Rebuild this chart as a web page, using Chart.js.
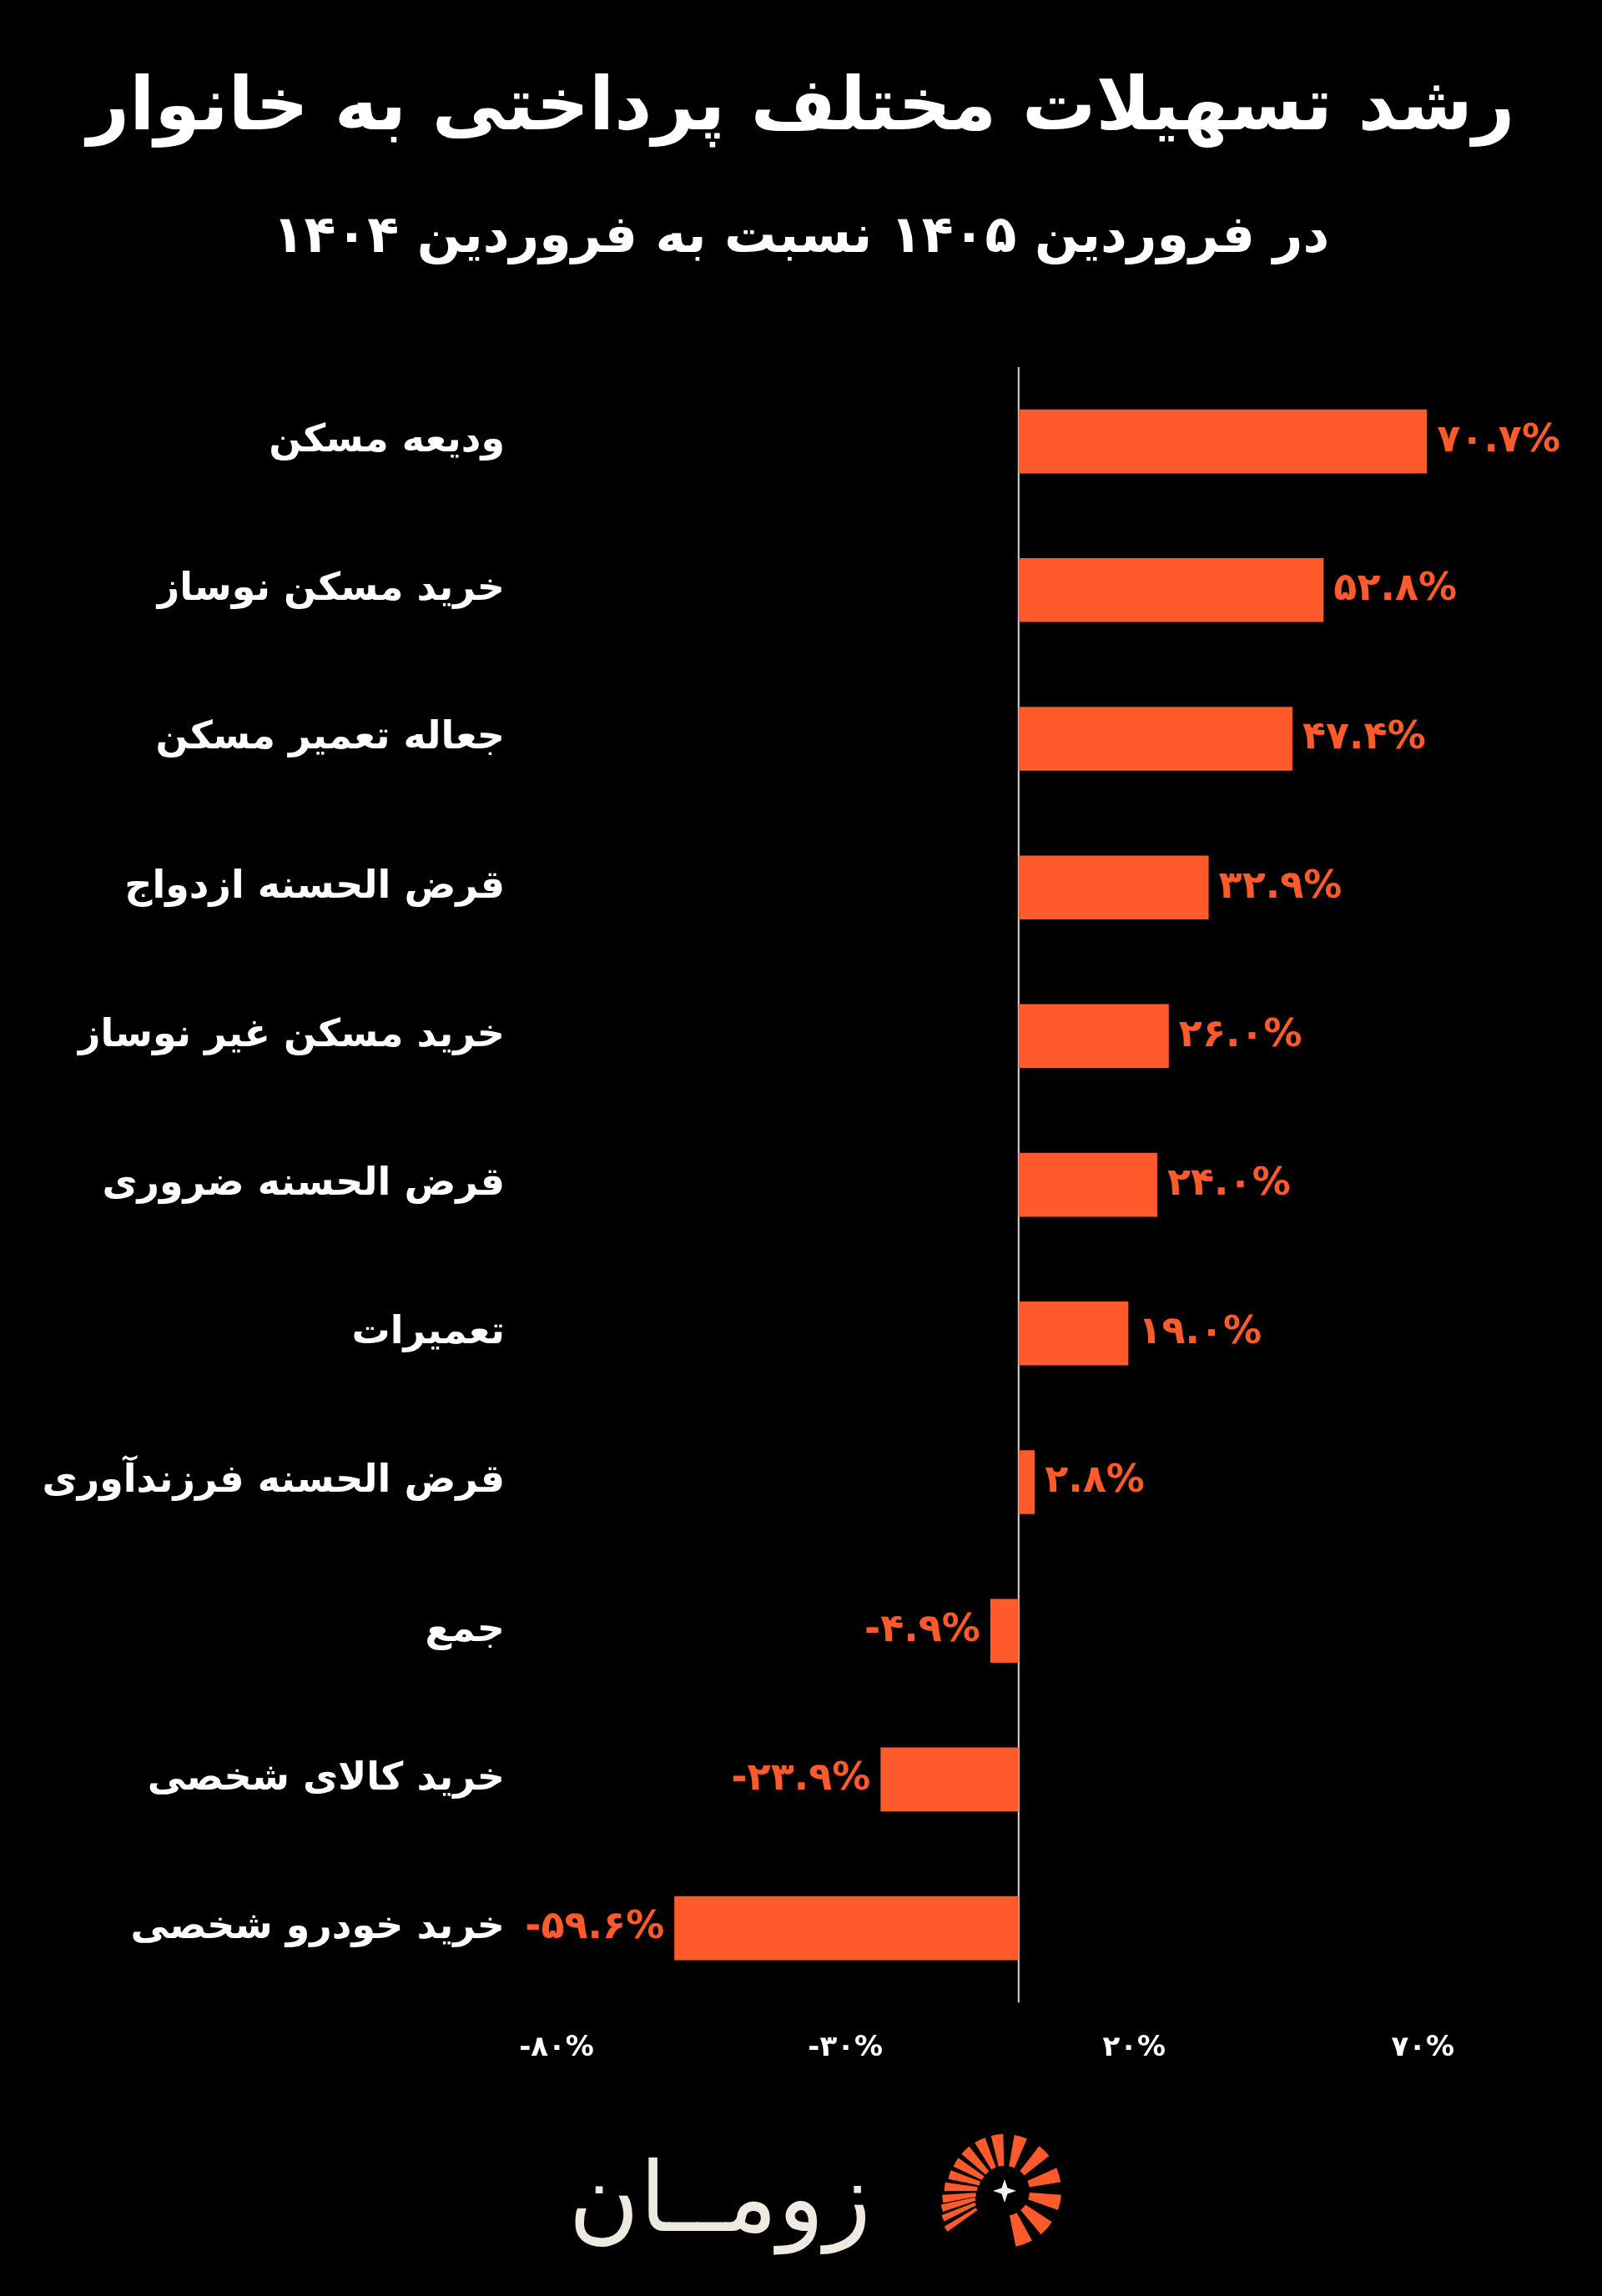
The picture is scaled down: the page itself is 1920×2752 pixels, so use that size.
<!DOCTYPE html>
<html>
<head>
<meta charset="utf-8">
<script src="https://cdn.jsdelivr.net/npm/chart.js@4/dist/chart.umd.min.js"></script>
<style>
  html, body { margin: 0; padding: 0; background: #000; }
  #wrap { width: 1920px; height: 2752px; position: relative; }
</style>
</head>
<body>
<div id="wrap"><canvas id="growthChart" width="1920" height="2752"></canvas></div>
<script>
const categories = [
  'ودیعه مسکن',
  'خرید مسکن نوساز',
  'جعاله تعمیر مسکن',
  'قرض الحسنه ازدواج',
  'خرید مسکن غیر نوساز',
  'قرض الحسنه ضروری',
  'تعمیرات',
  'قرض الحسنه فرزندآوری',
  'جمع',
  'خرید کالای شخصی',
  'خرید خودرو شخصی'
];
const growth = [70.7, 52.8, 47.4, 32.9, 26.0, 24.0, 19.0, 2.8, -4.9, -23.9, -59.6];
const tickValues = [-80, -30, 20, 70];

const titleText = 'رشد تسهیلات مختلف پرداختی به خانوار';
const subtitleText = 'در فروردین ۱۴۰۵ نسبت به فروردین ۱۴۰۴';
const brandText = 'زومــان';

const ORANGE = '#FF5A2B';
const FONT = '"DejaVu Sans", sans-serif';

// western digits -> persian digits
const fa = s => String(s).replace(/\d/g, d => '۰۱۲۳۴۵۶۷۸۹'[d]);

// zero line + value labels
const barExtras = {
  id: 'barExtras',
  beforeDatasetsDraw(chart) {
    const { ctx, chartArea, scales } = chart;
    const x0 = scales.x.getPixelForValue(0);
    ctx.save();
    ctx.strokeStyle = '#d6d6d6';
    ctx.lineWidth = 2;
    ctx.beginPath();
    ctx.moveTo(x0, chartArea.top);
    ctx.lineTo(x0, chartArea.bottom);
    ctx.stroke();
    ctx.restore();
  },
  afterDatasetsDraw(chart) {
    const { ctx } = chart;
    const meta = chart.getDatasetMeta(0);
    ctx.save();
    ctx.font = 'bold 46px ' + FONT;
    ctx.fillStyle = ORANGE;
    ctx.textBaseline = 'middle';
    meta.data.forEach((bar, i) => {
      const v = growth[i];
      const txt = fa(v.toFixed(1)) + '%';
      if (v >= 0) {
        ctx.textAlign = 'left';
        ctx.fillText(txt, bar.x + 12, bar.y);
      } else {
        ctx.textAlign = 'right';
        ctx.fillText(txt, bar.x - 12, bar.y);
      }
    });
    ctx.restore();
  }
};

// brand logo at the bottom
const rayAngles = [147, 156, 164.6, 172.6, 184, 196.5, 210.5, 226, 244, 262.4, 286.6, 314.7, 343.7, 371.9, 401.7, 429.8];
const brandLogo = {
  id: 'brandLogo',
  afterDraw(chart) {
    const { ctx } = chart;
    ctx.save();
    ctx.fillStyle = '#EEEAE2';
    ctx.font = '116px ' + FONT;
    ctx.textAlign = 'right';
    ctx.textBaseline = 'alphabetic';
    ctx.fillText(brandText, 1044, 2674);

    // sunburst icon
    const cx = 1204, cy = 2626;
    ctx.fillStyle = ORANGE;
    rayAngles.forEach((deg, k) => {
      const t = k / (rayAngles.length - 1);
      const a = deg * Math.PI / 180;
      const half = (2.4 + 6.4 * t) * Math.PI / 180;
      const rIn = k < 6 ? 40 - k * 1.8 : 30;
      const rOut = k < 6 ? 84 - k * 3 : 68;
      ctx.beginPath();
      ctx.arc(cx, cy, rOut, a - half, a + half);
      ctx.arc(cx, cy, rIn, a + half, a - half, true);
      ctx.closePath();
      ctx.fill();
    });
    // star
    ctx.fillStyle = '#F4F1EA';
    ctx.beginPath();
    const s = 14, w = 3.5;
    ctx.moveTo(cx, cy - s);
    ctx.lineTo(cx + w, cy - w);
    ctx.lineTo(cx + s, cy);
    ctx.lineTo(cx + w, cy + w);
    ctx.lineTo(cx, cy + s);
    ctx.lineTo(cx - w, cy + w);
    ctx.lineTo(cx - s, cy);
    ctx.lineTo(cx - w, cy - w);
    ctx.closePath();
    ctx.fill();
    ctx.restore();
  }
};

const bgFill = {
  id: 'bgFill',
  beforeDraw(chart) {
    const { ctx, width, height } = chart;
    ctx.save();
    ctx.fillStyle = '#000';
    ctx.fillRect(0, 0, width, height);
    ctx.restore();
  }
};

new Chart(document.getElementById('growthChart'), {
  type: 'bar',
  data: {
    labels: categories,
    datasets: [{
      data: growth,
      backgroundColor: ORANGE,
      borderWidth: 0,
      categoryPercentage: 1,
      barPercentage: 0.43
    }]
  },
  options: {
    indexAxis: 'y',
    responsive: false,
    animation: false,
    devicePixelRatio: 1,
    layout: { padding: { left: 0, right: 0, top: 0, bottom: 241 } },
    plugins: {
      legend: { display: false },
      tooltip: { enabled: false },
      title: {
        display: true,
        text: titleText,
        color: '#fff',
        font: { family: FONT, size: 88, weight: 'bold', lineHeight: 1.2 },
        padding: { top: 79, bottom: 64 }
      },
      subtitle: {
        display: true,
        text: subtitleText,
        color: '#fff',
        font: { family: FONT, size: 62, weight: 'bold', lineHeight: 1.2 },
        padding: { top: 0, bottom: 117 }
      }
    },
    scales: {
      x: {
        min: -80,
        max: 101,
        afterBuildTicks: scale => { scale.ticks = tickValues.map(v => ({ value: v })); },
        grid: { display: false, drawTicks: false },
        border: { display: false },
        ticks: {
          color: '#fff',
          padding: 35,
          font: { family: FONT, size: 34, weight: 'bold', lineHeight: 1.2 },
          callback: v => fa(v) + '%'
        }
      },
      y: {
        afterFit: scale => { scale.width = 667; },
        grid: { display: false, drawTicks: false },
        border: { display: false },
        ticks: {
          color: '#fff',
          padding: 62,
          font: { family: FONT, size: 46, weight: 'bold' }
        }
      }
    }
  },
  plugins: [bgFill, barExtras, brandLogo]
});
</script>
</body>
</html>
